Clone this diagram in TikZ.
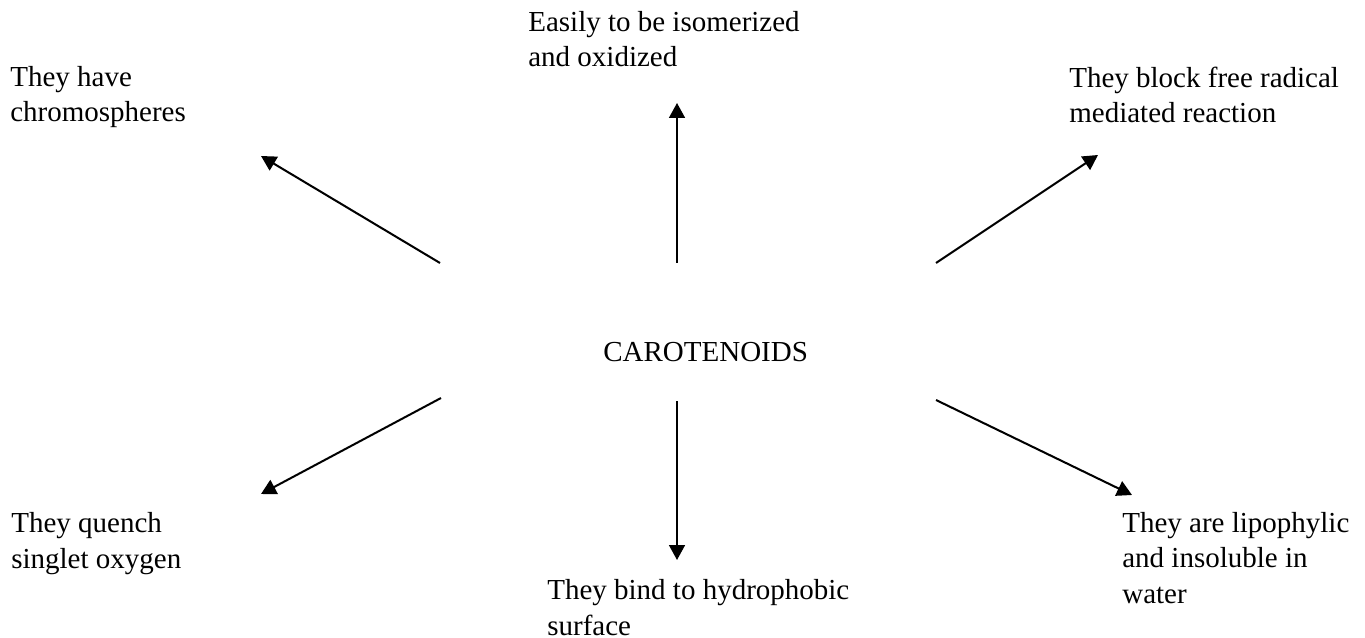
\documentclass[tikz,border=0pt]{standalone}
\usepackage{fontspec}
\setmainfont{Liberation Serif}
\usetikzlibrary{arrows.meta}
\tikzset{
  info/.style={anchor=base west, inner sep=0pt, align=left,
    font=\fontsize{16.5}{20.2}\selectfont},
  spoke/.style={line width=1.15pt, -{Triangle[length=8.5pt,width=9pt]}}
}
\begin{document}
\begin{tikzpicture}[x=0.02cm, y=-0.02cm]
\useasboundingbox (0,0) rectangle (1365,638);
% Centre
\node[info] (carot) at (603,361) {CAROTENOIDS};

% Statements (placed at the baseline of their last line)
\node[info] (chromo) at (10,122) {They have\\chromospheres};
\node[info] (isomer) at (528,67) {Easily to be isomerized\\and oxidized};
\node[info] (radical) at (1069,123) {They block free radical\\mediated reaction};
\node[info] (quench) at (11,568) {They quench\\singlet oxygen};
\node[info] (bind) at (547,635) {They bind to hydrophobic\\surface};
\node[info] (lipo) at (1122,603) {They are lipophylic\\and insoluble in\\water};

% Spoke ends
\coordinate (ulA) at (440,263);  \coordinate (ulB) at (261,156);
\coordinate (upA) at (677,263);  \coordinate (upB) at (677,103);
\coordinate (urA) at (936,263);  \coordinate (urB) at (1098,155);
\coordinate (llA) at (441,398);  \coordinate (llB) at (261,494);
\coordinate (dnA) at (677,401);  \coordinate (dnB) at (677,560);
\coordinate (lrA) at (936,400);  \coordinate (lrB) at (1132,495);

% Spokes
\draw[spoke] (ulA) -- (ulB);
\draw[spoke] (upA) -- (upB);
\draw[spoke] (urA) -- (urB);
\draw[spoke] (llA) -- (llB);
\draw[spoke] (dnA) -- (dnB);
\draw[spoke] (lrA) -- (lrB);
\end{tikzpicture}
\end{document}
